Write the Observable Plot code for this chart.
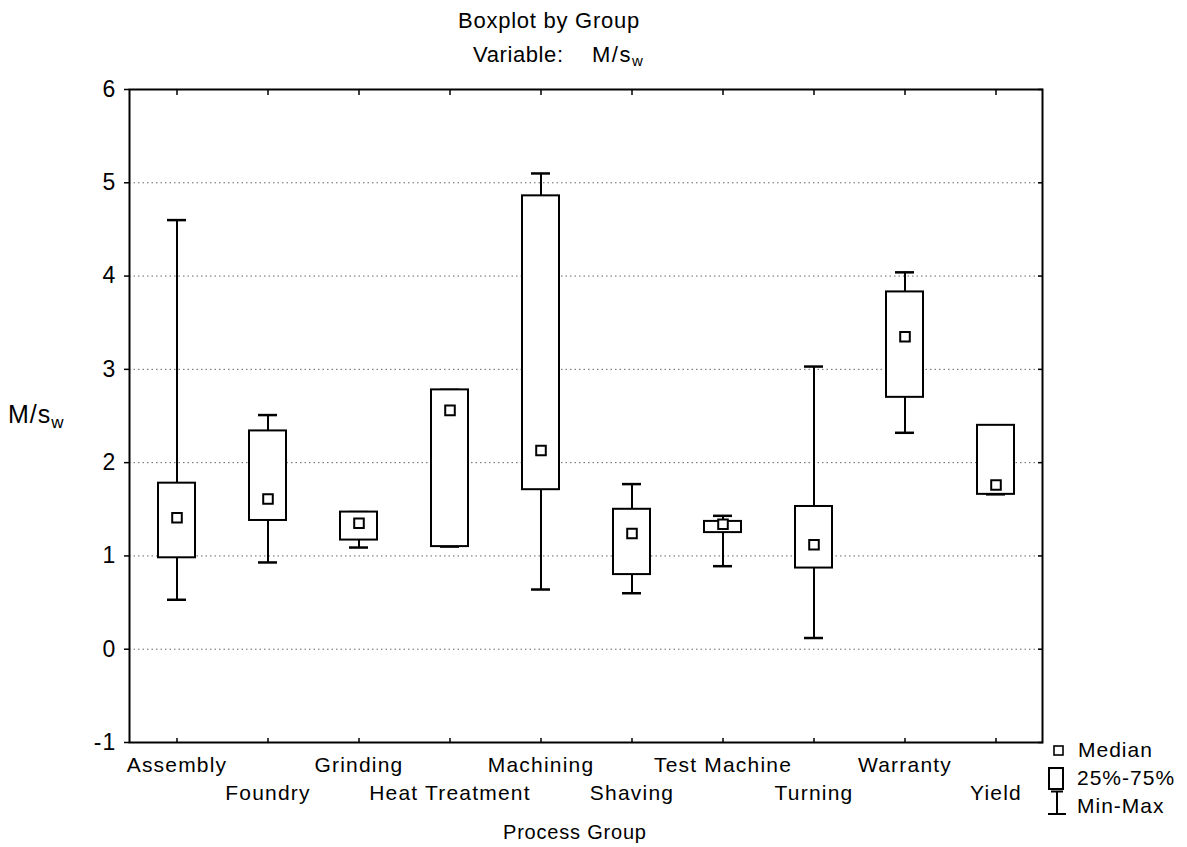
<!DOCTYPE html>
<html>
<head>
<meta charset="utf-8">
<script src="https://cdn.jsdelivr.net/npm/d3@7"></script>
<script src="https://cdn.jsdelivr.net/npm/@observablehq/plot@0.6"></script>
<style>
  body { margin: 0; background: #fff; font-family: "Liberation Sans", Arial, sans-serif; color: #000; }
  #wrap { position: relative; width: 1187px; height: 847px; overflow: hidden; }
  #wrap > svg { position: absolute; left: 0; top: 0; }
  .t { position: absolute; white-space: nowrap; line-height: 1; color: #000; }
  .t sub { font-size: 0.68em; vertical-align: -0.3em; line-height: 0; letter-spacing: 0; }
  .icon { position: absolute; }
</style>
</head>
<body>
<div id="wrap"></div>
<script>
// Process groups, in axis order
const groups = ["Assembly", "Foundry", "Grinding", "Heat Treatment", "Machining",
                "Shaving", "Test Machine", "Turning", "Warranty", "Yield"];

// Five-number summaries of M/s_w for each group
const minVals    = [0.53, 0.93, 1.09, 1.10, 0.64, 0.60, 0.89, 0.12, 2.32, 1.66];
const q1Vals     = [0.98, 1.38, 1.17, 1.10, 1.71, 0.80, 1.25, 0.87, 2.70, 1.66];
const medianVals = [1.41, 1.61, 1.35, 2.56, 2.13, 1.24, 1.34, 1.12, 3.35, 1.76];
const q3Vals     = [1.78, 2.34, 1.47, 2.78, 4.86, 1.50, 1.37, 1.53, 3.83, 2.40];
const maxVals    = [4.60, 2.51, 1.47, 2.78, 5.10, 1.77, 1.43, 3.03, 4.04, 2.40];

// Axis ticks
const yTicks = [-1, 0, 1, 2, 3, 4, 5, 6];
const gridTicks = [0, 1, 2, 3, 4, 5];

// Legend entries
const legendLabels = ["Median", "25%-75%", "Min-Max"];

const data = groups.map((g, i) => ({
  group: g, min: minVals[i], q1: q1Vals[i], median: medianVals[i], q3: q3Vals[i], max: maxVals[i]
}));

const font = "'Liberation Sans', Arial, sans-serif";
const yFormat = d => (d < 0 ? "-" + Math.abs(d) : String(d));

const chart = Plot.plot({
  width: 1187,
  height: 847,
  marginLeft: 129,
  marginRight: 145,
  marginTop: 89,
  marginBottom: 105,
  style: { fontFamily: font, fontSize: "21px", color: "#000", background: "#fff", overflow: "visible" },
  x: { type: "band", domain: groups, padding: 0 },
  y: { domain: [-1, 6] },
  marks: [
    // dotted horizontal grid
    Plot.gridY(gridTicks, { stroke: "#666", strokeOpacity: 1, strokeWidth: 1, strokeDasharray: "1.5,3" }),
    // min-max whiskers with caps
    Plot.ruleX(data, { x: "group", y1: "min", y2: "max", stroke: "#000", strokeWidth: 2 }),
    Plot.tickY(data, { x: "group", y: "min", stroke: "#000", strokeWidth: 2.5, insetLeft: 36, insetRight: 36 }),
    Plot.tickY(data, { x: "group", y: "max", stroke: "#000", strokeWidth: 2.5, insetLeft: 36, insetRight: 36 }),
    // 25%-75% boxes
    Plot.barY(data, { x: "group", y1: "q1", y2: "q3", fill: "#fff", stroke: "#000", strokeWidth: 2, insetLeft: 27, insetRight: 27 }),
    // medians
    Plot.dot(data, { x: "group", y: "median", symbol: "square", r: 5.4, fill: "#fff", stroke: "#000", strokeWidth: 2 }),
    Plot.frame({ stroke: "#000", strokeWidth: 2 }),
    // axes
    Plot.axisY(yTicks, { anchor: "left", tickSize: 5, tickPadding: 8, fontSize: 23, tickFormat: yFormat, strokeWidth: 1.5, label: null }),
    Plot.axisY(yTicks, { anchor: "right", tickSize: -5, tickFormat: () => "", strokeWidth: 1.5, label: null }),
    Plot.axisX({ anchor: "top", tickSize: -5, tickFormat: () => "", strokeWidth: 1.5, label: null }),
    Plot.axisX({ anchor: "bottom", tickSize: -4, tickFormat: () => "", strokeWidth: 1.5, label: null }),
    Plot.axisX(groups.filter((d, i) => i % 2 === 0), { anchor: "bottom", tickSize: 0, tickPadding: 15, fontSize: 21, label: null }),
    Plot.axisX(groups.filter((d, i) => i % 2 === 1), { anchor: "bottom", tickSize: 0, tickPadding: 43, fontSize: 21, label: null })
  ]
});

// slightly wider tracking for the axis text
chart.querySelectorAll("text").forEach(t => t.setAttribute("letter-spacing", "1.2"));

const wrap = document.getElementById("wrap");
wrap.appendChild(chart);

// titles and axis labels
function addText(html, left, top, size, spacing) {
  const d = document.createElement("div");
  d.className = "t";
  d.innerHTML = html;
  d.style.left = left + "px";
  d.style.top = top + "px";
  d.style.fontSize = size + "px";
  d.style.letterSpacing = spacing + "px";
  wrap.appendChild(d);
  return d;
}
addText("Boxplot by Group", 458, 10, 22, 0.75);
addText("Variable:", 473, 44, 22, 0.6);
addText("M/s<sub>w</sub>", 592, 44, 22, 1.5);
addText("M/s<sub>w</sub>", 8, 402, 25, 1);
addText("Process Group", 503, 822, 20, 0.8);

// legend: symbols and labels
function addIcon(svgInner, left, top, w, h) {
  const s = document.createElementNS("http://www.w3.org/2000/svg", "svg");
  s.setAttribute("class", "icon");
  s.setAttribute("width", w);
  s.setAttribute("height", h);
  s.style.left = left + "px";
  s.style.top = top + "px";
  s.innerHTML = svgInner;
  wrap.appendChild(s);
}
addIcon('<rect x="1" y="1" width="9" height="9" fill="#fff" stroke="#000" stroke-width="1.6"/>', 1053, 745, 12, 12);
addIcon('<rect x="1" y="1" width="14" height="21" fill="#fff" stroke="#000" stroke-width="2"/>', 1048, 767, 17, 24);
addIcon('<path d="M4,1.5H16M10,1.5V24M1,24H19" fill="none" stroke="#000" stroke-width="2"/>', 1047, 790, 20, 26);
addText(legendLabels[0], 1078, 739, 21, 1);
addText(legendLabels[1], 1077, 767, 21, 1);
addText(legendLabels[2], 1077, 795, 21, 1);
</script>
</body>
</html>
